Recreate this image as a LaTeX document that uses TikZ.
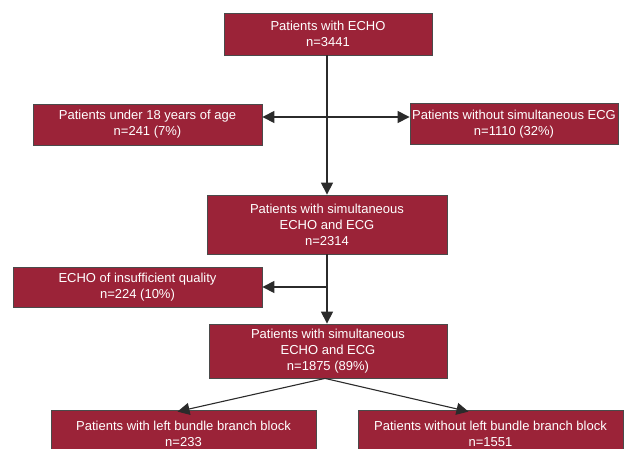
\documentclass[tikz,border=0pt]{standalone}
\usepackage{fontspec}
\setmainfont{Liberation Sans}
\usetikzlibrary{arrows.meta, positioning, calc}
\definecolor{flowred}{HTML}{9B2338}
\definecolor{flowredborder}{HTML}{4A4A4A}
\definecolor{flowline}{HTML}{2B2B2B}

\begin{document}
\begin{tikzpicture}[
      x=1pt, y=-1pt,
      stage/.style={draw=flowredborder, fill=flowred, text=white,
        line width=0.8pt, inner sep=1pt, align=center,
        font=\fontsize{13}{16}\selectfont},
      flow/.style={draw=flowline, line width=1.1pt,
        -{Triangle[length=12pt, width=12pt]}}
    ]
      \useasboundingbox (0,0) rectangle (627,448);
      \node[stage, minimum width=208pt, minimum height=42pt] (echo)
        at (328,34) {Patients with ECHO\\n=3441};
      \node[stage, minimum width=229pt, minimum height=41pt] (under18)
        at (147.5,124.5) {Patients under 18 years of age\\n=241 (7\%)};
      \node[stage, minimum width=208pt, minimum height=41pt] (nosimul)
        at (514,124) {Patients without simultaneous ECG\\n=1110 (32\%)};
      \node[stage, minimum width=240pt, minimum height=59pt] (withboth)
        at (327,224.5) {Patients with simultaneous\\ECHO and ECG\\n=2314};
      \node[stage, minimum width=249pt, minimum height=40pt] (lowquality)
        at (137.5,287) {ECHO of insufficient quality\\n=224 (10\%)};
      \node[stage, minimum width=238pt, minimum height=54pt] (final)
        at (328,351) {Patients with simultaneous\\ECHO and ECG\\n=1875 (89\%)};
      \node[stage, minimum width=265pt, minimum height=48pt] (withlbbb)
        at (183.5,434) {Patients with left bundle branch block\\n=233};
      \node[stage, minimum width=265pt, minimum height=48pt] (nolbbb)
        at (490.5,434) {Patients without left bundle branch block\\n=1551};
      % exclusions branch off the trunk
      \coordinate (split1) at (327,117);
      \coordinate (split2) at (327,287);
      \draw[flow] (echo.south -| split1) -- (split1 |- withboth.north);
      \draw[flow] (split1) -- (under18.east |- split1);
      \draw[flow] (split1) -- (nosimul.west |- split1);
      \draw[flow] (withboth.south -| split2) -- (split2 |- final.north);
      \draw[flow] (split2) -- (lowquality.east);
      \draw[flow] ([xshift=-3pt]final.south) -- ([xshift=-6pt, yshift=-2pt]withlbbb.north);
      \draw[flow] ([xshift=-3pt]final.south) -- ([xshift=-22pt, yshift=-2pt]nolbbb.north);
    \end{tikzpicture}
\end{document}
